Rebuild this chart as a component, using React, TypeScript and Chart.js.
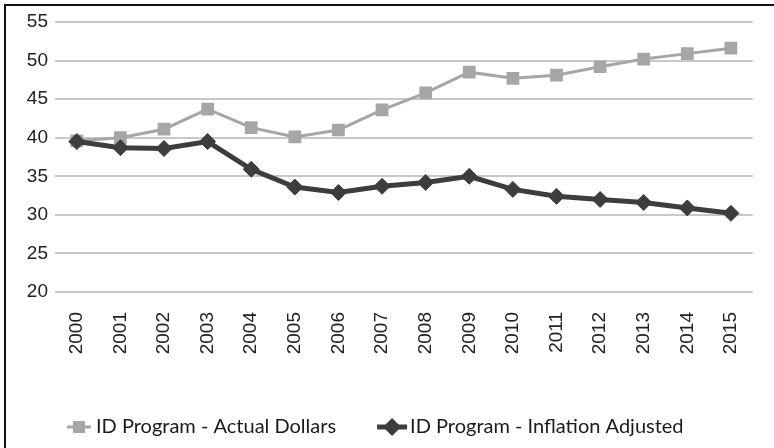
import React, { useEffect, useRef } from "react";
import { Chart, registerables } from "chart.js";

Chart.register(...registerables);

const years = ["2000", "2001", "2002", "2003", "2004", "2005", "2006", "2007", "2008", "2009", "2010", "2011", "2012", "2013", "2014", "2015"];
const actualDollars = [39.6, 40.0, 41.1, 43.7, 41.3, 40.1, 41.0, 43.6, 45.8, 48.5, 47.7, 48.1, 49.2, 50.2, 50.9, 51.6];
const inflationAdjusted = [39.5, 38.7, 38.6, 39.5, 35.9, 33.6, 32.9, 33.7, 34.2, 35.0, 33.3, 32.4, 32.0, 31.6, 30.9, 30.2];
const seriesLabels = ["ID Program - Actual Dollars", "ID Program - Inflation Adjusted"];
const yMin = 20;
const yMax = 55;
const yStep = 5;

const GRAY = "#a6a6a6";
const DARK = "#3d3d3d";

const legendPlugin = {
  id: "lineLegend",
  afterDraw(chart: any) {
    const ctx = chart.ctx as CanvasRenderingContext2D;
    ctx.save();
    ctx.font = "20px Lato";
    ctx.textBaseline = "middle";
    const y = 427;
    const specs = chart.data.datasets.map((ds: any, i: number) => ({
      label: ds.label as string,
      color: ds.borderColor as string,
      lineW: ds.borderWidth as number,
      style: ds.pointStyle as string,
      markerW: i === 0 ? 24 : 30,
      gap: i === 0 ? 5 : 3,
      textW: ctx.measureText(ds.label).width,
    }));
    const itemGap = 41;
    let x = 67;
    for (const it of specs) {
      ctx.strokeStyle = it.color;
      ctx.lineWidth = it.lineW;
      ctx.beginPath();
      ctx.moveTo(x, y);
      ctx.lineTo(x + it.markerW, y);
      ctx.stroke();
      const cx = x + it.markerW / 2;
      ctx.fillStyle = it.color;
      ctx.beginPath();
      if (it.style === "rect") {
        ctx.rect(cx - 6, y - 6, 12, 12);
      } else {
        const r = 9;
        ctx.moveTo(cx - r, y);
        ctx.lineTo(cx, y - r);
        ctx.lineTo(cx + r, y);
        ctx.lineTo(cx, y + r);
        ctx.closePath();
      }
      ctx.fill();
      ctx.fillStyle = "#1a1a1a";
      ctx.fillText(it.label, x + it.markerW + it.gap, y);
      x += it.markerW + it.gap + it.textW + itemGap;
    }
    ctx.restore();
  },
};

export default function App() {
  const canvasRef = useRef<HTMLCanvasElement | null>(null);

  useEffect(() => {
    const canvas = canvasRef.current;
    if (!canvas) return;
    const chart = new Chart(canvas, {
      type: "line",
      data: {
        labels: years,
        datasets: [
          {
            label: seriesLabels[0],
            data: actualDollars,
            borderColor: GRAY,
            backgroundColor: GRAY,
            borderWidth: 3,
            pointStyle: "rect",
            pointRadius: 9,
            pointBorderWidth: 0,
            pointBackgroundColor: GRAY,
            tension: 0,
            order: 1,
          },
          {
            label: seriesLabels[1],
            data: inflationAdjusted,
            borderColor: DARK,
            backgroundColor: DARK,
            borderWidth: 5,
            pointStyle: "rectRot",
            pointRadius: 8,
            pointBorderWidth: 1,
            pointBackgroundColor: DARK,
            pointBorderColor: DARK,
            tension: 0,
            order: 0,
          },
        ],
      },
      options: {
        animation: false,
        responsive: false,
        devicePixelRatio: 1,
        layout: { padding: { top: 22, right: 9, bottom: 0, left: 0 } },
        plugins: {
          legend: { display: false },
          tooltip: { enabled: false },
        },
        scales: {
          x: {
            offset: true,
            grid: { display: false, drawTicks: false },
            border: { display: false },
            ticks: {
              minRotation: 90,
              maxRotation: 90,
              padding: 20,
              color: "#222",
              font: { family: "Liberation Sans", size: 19 },
            },
            afterFit(axis: any) {
              axis.height = 156;
            },
          },
          y: {
            min: yMin,
            max: yMax,
            ticks: {
              stepSize: yStep,
              padding: 7,
              color: "#222",
              font: { family: "Liberation Sans", size: 19 },
            },
            grid: { color: "#c8c8c8", lineWidth: 2, drawTicks: false },
            border: { display: false },
            afterFit(axis: any) {
              axis.width = 55;
            },
          },
        },
      },
      plugins: [legendPlugin],
    });
    return () => chart.destroy();
  }, []);

  return (
    <div style={{ position: "fixed", left: 0, top: 0, width: 774, height: 448, background: "#fff" }}>
      <canvas ref={canvasRef} width={774} height={448} style={{ position: "absolute", left: 0, top: 0, width: 774, height: 448 }} />
      <div
        style={{
          position: "absolute",
          left: 4,
          top: 4,
          right: 0,
          bottom: 0,
          borderTop: "2px solid #111",
          borderLeft: "2px solid #111",
          pointerEvents: "none",
        }}
      />
    </div>
  );
}
